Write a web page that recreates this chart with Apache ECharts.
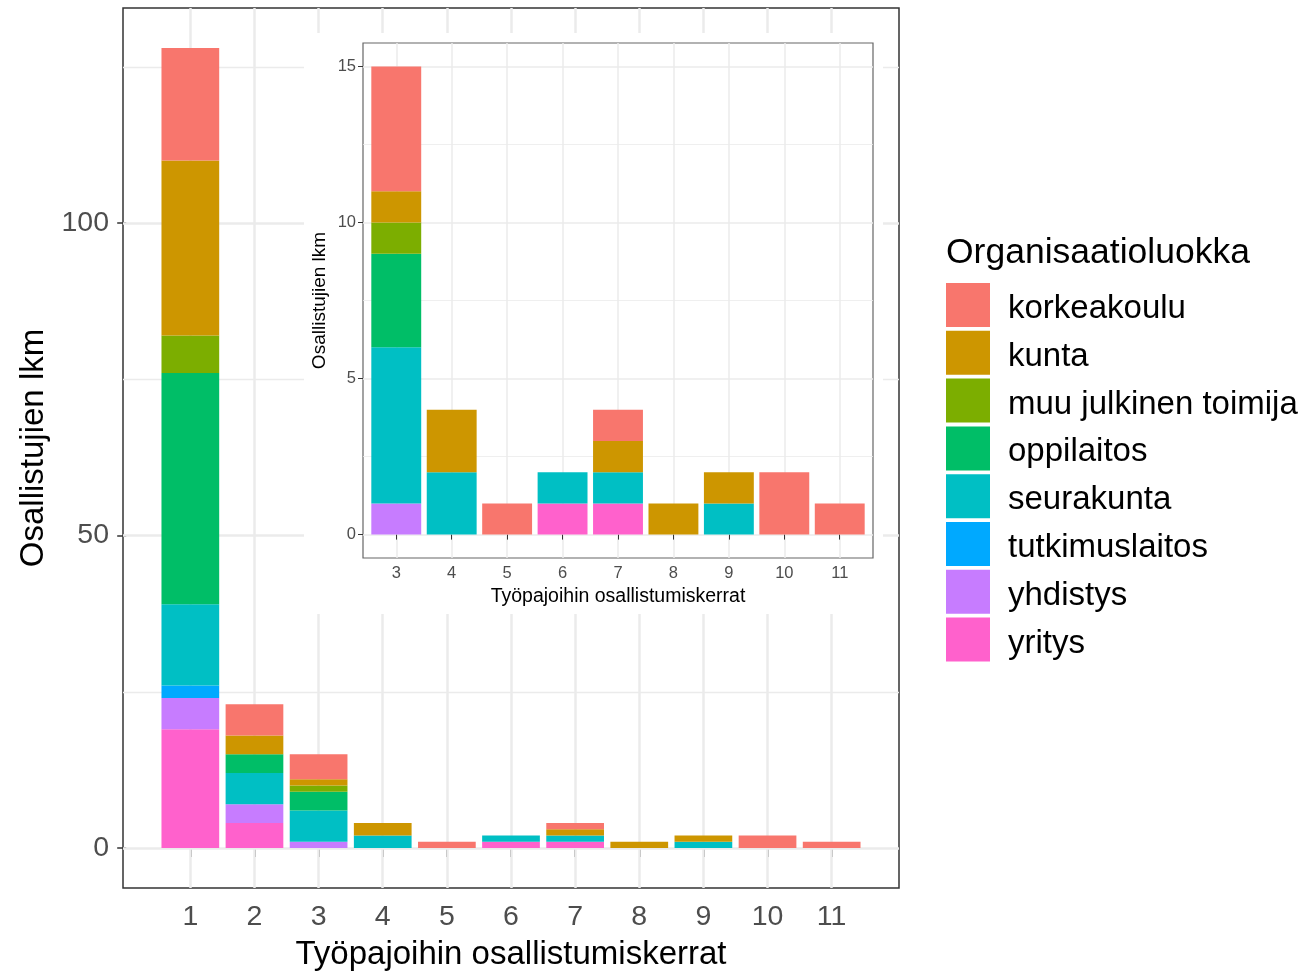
<!DOCTYPE html>
<html>
<head>
<meta charset="utf-8">
<script src="https://cdn.jsdelivr.net/npm/echarts@6/dist/echarts.min.js"></script>
<style>html,body{margin:0;padding:0;background:#fff;}#chart{width:1302px;height:971px;}</style>
</head>
<body>
<div id="chart"></div>
<script>
// ---- data ----
const categories = [1, 2, 3, 4, 5, 6, 7, 8, 9, 10, 11];
const insetCategories = [3, 4, 5, 6, 7, 8, 9, 10, 11];
const groups = ['korkeakoulu', 'kunta', 'muu julkinen toimija', 'oppilaitos', 'seurakunta', 'tutkimuslaitos', 'yhdistys', 'yritys'];
const korkeakoulu        = [18, 5, 4, 0, 1, 0, 1, 0, 0, 2, 1];
const kunta              = [28, 3, 1, 2, 0, 0, 1, 1, 1, 0, 0];
const muuJulkinenToimija = [6, 0, 1, 0, 0, 0, 0, 0, 0, 0, 0];
const oppilaitos         = [37, 3, 3, 0, 0, 0, 0, 0, 0, 0, 0];
const seurakunta         = [13, 5, 5, 2, 0, 1, 1, 0, 1, 0, 0];
const tutkimuslaitos     = [2, 0, 0, 0, 0, 0, 0, 0, 0, 0, 0];
const yhdistys           = [5, 3, 1, 0, 0, 0, 0, 0, 0, 0, 0];
const yritys             = [19, 4, 0, 0, 0, 1, 1, 0, 0, 0, 0];
const mainYTicks = [0, 50, 100];
const mainYMinor = [25, 75, 125];
const insetYTicks = [0, 5, 10, 15];
const insetYMinor = [2.5, 7.5, 12.5];
const legendTitle = 'Organisaatioluokka';
const xTitle = 'Työpajoihin osallistumiskerrat';
const yTitle = 'Osallistujien lkm';

// ---- styles / layout ----
const values = [korkeakoulu, kunta, muuJulkinenToimija, oppilaitos, seurakunta, tutkimuslaitos, yhdistys, yritys];
const colors = ['#F8766D', '#CD9600', '#7CAE00', '#00BE67', '#00BFC4', '#00A9FF', '#C77CFF', '#FF61CC'];
const FONT = 'Liberation Sans, Arial, sans-serif';
const mainGrid = { left: 123, top: 8, width: 776, height: 880 };
const insetGrid = { left: 363, top: 43, width: 510, height: 515 };
const mainX = { min: -0.05, max: 12.05 };
const mainY = { min: -6.4, max: 134.4 };
const insetX = { min: 2.4, max: 11.6 };
const insetY = { min: -0.75, max: 15.75 };
const mainBarW = mainGrid.width * 0.9 / (mainX.max - mainX.min);
const insetBarW = insetGrid.width * 0.9 / (insetX.max - insetX.min);
const GRID_C = '#EBEBEB';

function gridLines(xs, ys, ysMinor, wMajor, wMinor) {
  const d = [];
  xs.forEach(v => d.push({ xAxis: v, lineStyle: { color: GRID_C, width: wMajor, type: 'solid' } }));
  ys.forEach(v => d.push({ yAxis: v, lineStyle: { color: GRID_C, width: wMajor, type: 'solid' } }));
  ysMinor.forEach(v => d.push({ yAxis: v, lineStyle: { color: GRID_C, width: wMinor, type: 'solid' } }));
  return d;
}

const series = [];
// stacking: last group at bottom (ggplot order: first level on top)
// data rows are [count, category] so the stacked (first numeric) dimension is the y value
for (let k = groups.length - 1; k >= 0; k--) {
  const s = {
    name: groups[k], type: 'bar', stack: 'main', xAxisIndex: 0, yAxisIndex: 0,
    encode: { x: 1, y: 0 },
    barWidth: mainBarW, itemStyle: { color: colors[k] }, z: 2,
    data: categories.map((c, i) => [values[k][i], c])
  };
  if (k === groups.length - 1) {
    s.markLine = { z: 1, silent: true, symbol: 'none', animation: false, label: { show: false },
      data: gridLines(categories, mainYTicks, mainYMinor, 2.5, 1.3) };
  }
  series.push(s);
}
for (let k = groups.length - 1; k >= 0; k--) {
  const s = {
    name: groups[k], type: 'bar', stack: 'inset', xAxisIndex: 1, yAxisIndex: 1,
    encode: { x: 1, y: 0 },
    barWidth: insetBarW, itemStyle: { color: colors[k] }, z: 7,
    data: insetCategories.map(c => [values[k][categories.indexOf(c)], c])
  };
  if (k === groups.length - 1) {
    s.markLine = { z: 5, silent: true, symbol: 'none', animation: false, label: { show: false },
      data: gridLines(insetCategories, insetYTicks, insetYMinor, 1.5, 0.8) };
  }
  series.push(s);
}

const chart = echarts.init(document.getElementById('chart'), null, { renderer: 'canvas' });
chart.setOption({
  animation: false,
  backgroundColor: '#fff',
  textStyle: { fontFamily: FONT },
  title: {
    text: legendTitle, left: 946, top: 235, padding: 0,
    textStyle: { fontSize: 35.5, fontWeight: 'normal', color: '#000', fontFamily: FONT }
  },
  legend: {
    data: groups, orient: 'vertical', left: 946, top: 283, padding: 0,
    itemWidth: 44, itemHeight: 44, itemGap: 3.8, icon: 'rect', selectedMode: false,
    formatter: '{t|{name}}',
    textStyle: {
      fontSize: 33, color: '#000', fontFamily: FONT,
      rich: { t: { fontSize: 33, color: '#000', fontFamily: FONT, padding: [8, 0, 0, 13] } }
    }
  },
  graphic: [{
    type: 'rect', z: 3, silent: true,
    shape: { x: 304, y: 33, width: 579, height: 581 },
    style: { fill: '#fff' }
  }],
  grid: [
    Object.assign({ show: true, outerBoundsMode: 'none', containLabel: false, borderColor: '#333', borderWidth: 1.5, backgroundColor: 'transparent', z: 0 }, mainGrid),
    Object.assign({ show: true, outerBoundsMode: 'none', containLabel: false, borderColor: '#666', borderWidth: 1.2, backgroundColor: 'transparent', z: 4 }, insetGrid)
  ],
  xAxis: [
    { type: 'value', gridIndex: 0, min: mainX.min, max: mainX.max,
      axisLine: { show: false }, splitLine: { show: false },
      axisTick: { show: true, length: 9, lineStyle: { color: '#333', width: 1.5 }, customValues: categories },
      axisLabel: { customValues: categories, fontSize: 28.5, color: '#4D4D4D', margin: 15, fontFamily: FONT },
      name: xTitle, nameLocation: 'middle', nameGap: 50,
      nameTextStyle: { fontSize: 33, color: '#000', fontFamily: FONT } },
    { type: 'value', gridIndex: 1, min: insetX.min, max: insetX.max, z: 5,
      axisLine: { show: false }, splitLine: { show: false },
      axisTick: { show: true, length: 5, lineStyle: { color: '#333', width: 1 }, customValues: insetCategories },
      axisLabel: { customValues: insetCategories, fontSize: 16.5, color: '#4D4D4D', margin: 7, fontFamily: FONT },
      name: xTitle, nameLocation: 'middle', nameGap: 28,
      nameTextStyle: { fontSize: 19.5, color: '#000', fontFamily: FONT } },
  ],
  yAxis: [
    { type: 'value', gridIndex: 0, min: mainY.min, max: mainY.max,
      axisLine: { show: false }, splitLine: { show: false },
      axisTick: { show: true, length: 9, lineStyle: { color: '#333', width: 1.5 }, customValues: mainYTicks },
      axisLabel: { customValues: mainYTicks, fontSize: 28.5, color: '#4D4D4D', margin: 14, fontFamily: FONT },
      name: yTitle, nameLocation: 'middle', nameGap: 72, nameRotate: 90,
      nameTextStyle: { fontSize: 33, color: '#000', fontFamily: FONT } },
    { type: 'value', gridIndex: 1, min: insetY.min, max: insetY.max, z: 5,
      axisLine: { show: false }, splitLine: { show: false },
      axisTick: { show: true, length: 5, lineStyle: { color: '#333', width: 1 }, customValues: insetYTicks },
      axisLabel: { customValues: insetYTicks, fontSize: 16.5, color: '#4D4D4D', margin: 7, fontFamily: FONT },
      name: yTitle, nameLocation: 'middle', nameGap: 34, nameRotate: 90,
      nameTextStyle: { fontSize: 19, color: '#000', fontFamily: FONT } }
  ],
  series: series
});
</script>
</body>
</html>
